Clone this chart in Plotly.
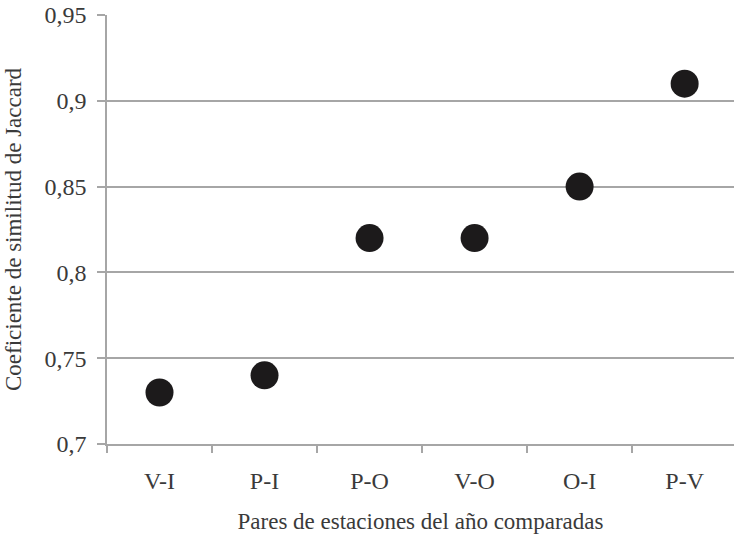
import plotly.graph_objects as go

categories = ["V-I", "P-I", "P-O", "V-O", "O-I", "P-V"]
jaccard = [0.73, 0.74, 0.82, 0.82, 0.85, 0.91]
y_tickvals = [0.7, 0.75, 0.8, 0.85, 0.9, 0.95]
y_ticktext = ["0,7", "0,75", "0,8", "0,85", "0,9", "0,95"]

FONT = "Liberation Serif"
GRID = "#a6a6a6"
TXT = "#3a3a3a"

fig = go.Figure()
fig.add_trace(go.Scatter(
    x=categories, y=jaccard, mode="markers",
    marker=dict(size=28, color="#1c1a1b", line=dict(width=0)),
    showlegend=False, cliponaxis=False,
))

fig.update_layout(
    width=734, height=536,
    margin=dict(l=107, r=0, t=15, b=92),
    paper_bgcolor="white", plot_bgcolor="white",
    font=dict(family=FONT, color=TXT, size=22),
)
fig.update_xaxes(
    type="category", range=[-0.5, 5.47], automargin=False,
    showgrid=False, showline=True, linecolor=GRID, linewidth=1.5,
    ticks="outside", tickson="boundaries", ticklen=7, tickcolor=GRID, tickwidth=1.5,
    tickfont=dict(size=24, family=FONT, color=TXT), ticklabelstandoff=14,
    title=dict(text="Pares de estaciones del año comparadas", font=dict(size=23, family=FONT, color=TXT), standoff=20),
    zeroline=False,
)
fig.update_yaxes(
    range=[0.69999, 0.95001], tickvals=y_tickvals, ticktext=y_ticktext, automargin=False,
    showgrid=True, gridcolor=GRID, gridwidth=1.5,
    showline=True, linecolor=GRID, linewidth=1.5,
    ticks="outside", ticklen=8, tickcolor=GRID, tickwidth=1.5,
    tickfont=dict(size=24, family=FONT, color=TXT), ticklabelstandoff=6,
    ticklabeloverflow="allow",
    title=dict(text="Coeficiente de similitud de Jaccard", font=dict(size=23, family=FONT, color=TXT), standoff=16),
    zeroline=False,
)
fig.write_html(
    "out.html",
    config={"displayModeBar": False},
    post_script="document.body.style.margin='0';document.body.style.overflow='hidden';",
)
